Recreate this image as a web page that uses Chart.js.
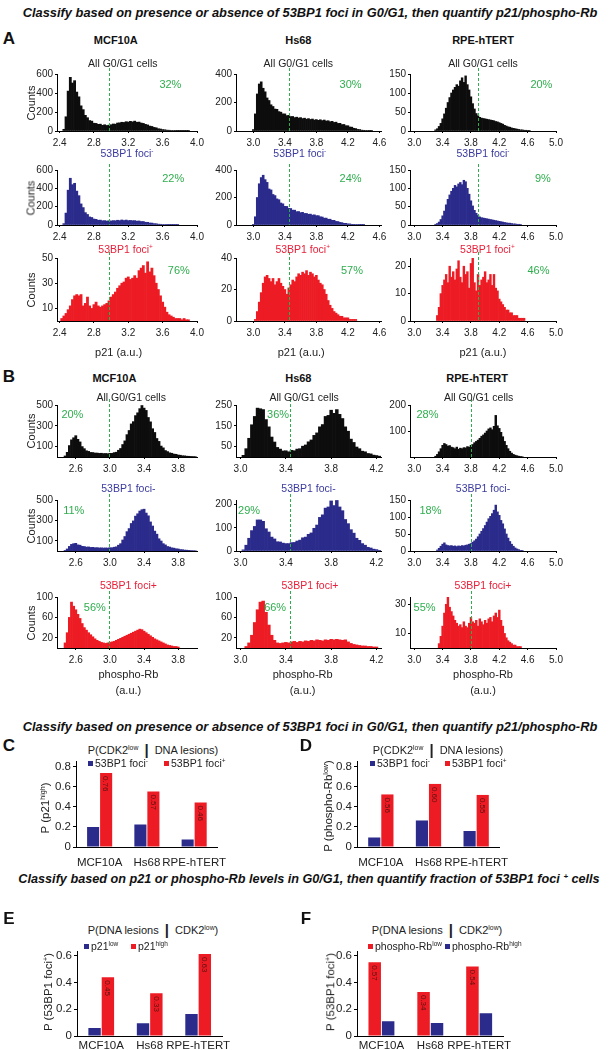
<!DOCTYPE html>
<html><head><meta charset="utf-8">
<script src="https://cdn.jsdelivr.net/npm/chart.js@4.4.1/dist/chart.umd.min.js"></script>
<style>
html,body{margin:0;padding:0;background:#fff;}
#root{position:relative;width:616px;height:1050px;overflow:hidden;font-family:'Liberation Sans',Arial,Helvetica,sans-serif;color:#222;}
.t{position:absolute;white-space:nowrap;transform:translate(-50%,-50%);line-height:1;}
.tl{position:absolute;white-space:nowrap;transform:translate(0,-50%);line-height:1;}
.box{position:absolute;}
sup{font-size:62%;vertical-align:0;position:relative;top:-0.55em;}
.sq{position:absolute;width:5px;height:5px;}
</style></head><body><div id="root"></div>
<script>
// ================= DATA =================
const cellLines = ['MCF10A', 'Hs68', 'RPE-hTERT'];
const BIN_W = 0.025;

// Panel A (p21, a.u.) — counts per bin
const pA_all_start = [2.45, 3.0, 3.30];
const pA_all_MCF10A = [18,150,420,565,505,530,410,360,265,225,165,140,110,104,82,80,70,72,60,66,58,62,66,74,72,84,86,92,90,98,94,102,96,104,92,94,84,80,70,64,52,48,38,34,24,21,15,13,9,8,6,5,4,3,2,2,1,1,1];
const pA_all_Hs68 = [10,120,260,330,345,300,275,232,214,184,172,154,152,136,132,120,120,108,110,101,102,94,97,91,94,87,90,83,87,81,84,77,80,75,79,73,77,70,72,65,68,60,62,53,54,45,46,37,37,28,27,19,17,11,10,6,5,4,3,2,1];
const pA_all_RPE = [3,6,12,20,32,45,60,75,88,100,108,115,122,118,132,140,128,145,122,108,90,72,58,46,40,36,34,33,32,31,30,29,28,27,25,24,22,20,18,15,13,11,10,8,7,6,5,4,3,3,2,2,1,1];

const pA_neg_start = [2.45, 3.0, 3.30];
const pA_neg_MCF10A = [15,130,380,510,440,455,370,320,230,190,135,115,88,82,65,62,52,53,46,48,43,46,44,48,46,52,48,55,49,54,48,50,47,48,42,44,38,38,30,29,22,21,15,14,9,8,6,5,4,3,2,2,1,1];
const pA_neg_Hs68 = [5,60,200,300,345,362,330,310,262,255,222,214,190,184,160,154,136,135,121,120,108,108,97,98,90,92,84,84,78,79,72,74,68,68,60,58,50,50,42,42,34,34,26,25,19,17,12,12,8,8,5,5,4,3,2,2,1];
const pA_neg_RPE = [2,4,8,15,25,38,55,70,82,92,100,108,104,112,116,110,122,118,100,84,66,52,40,32,26,22,20,19,18,17,16,15,14,13,12,11,10,9,8,7,6,5,5,4,3,3,2,2,1];

const pA_pos_start = [2.425, 3.025, 3.325];
const pA_pos_MCF10A = [2,4,6,9,12,17,20,21,20,21,12,14,19,12,10,13,15,12,11,12,13,14,16,19,21,23,26,28,30,31,34,35,33,34,36,34,40,42,44,38,47,39,42,36,30,25,20,15,11,7,5,4,3,2,2,2,1,2,1,1];
const pA_pos_Hs68 = [1,6,12,18,24,28,29,27,25,27,23,25,27,24,22,20,17,21,23,26,25,28,30,29,31,30,32,29,31,30,28,29,26,24,23,20,17,13,10,8,6,5,4,3,3,2,2,2,1,1,1,1];
const pA_pos_RPE = [2,5,10,13,15,17,14,20,16,18,15,19,22,16,14,20,17,18,12,21,23,14,11,17,13,15,16,18,14,15,17,13,17,12,11,8,7,6,5,4,4,3,3,2,2,2,1,1,1,1];

// Panel B (phospho-Rb, a.u.) — counts per bin
const pB_all_start = [2.475, 3.025, 3.30];
const pB_all_MCF10A = [10,45,110,165,185,205,170,145,100,80,60,54,44,43,38,38,35,36,33,34,32,35,35,42,46,65,82,120,155,215,255,318,340,398,425,465,495,470,448,380,338,272,236,178,150,105,88,62,52,40,36,28,26,19,17,12,11,8,7,5,4,3];
const pB_all_Hs68 = [8,40,90,155,195,235,232,228,180,145,96,72,46,38,29,30,25,32,30,38,40,52,58,73,82,104,116,145,156,195,200,225,210,228,205,185,145,124,86,70,48,40,28,25,17,15,9,7,4];
const pB_all_RPE = [3,10,20,32,45,52,48,42,44,38,36,32,38,30,34,32,36,35,40,38,45,48,55,60,65,72,80,85,92,100,108,112,105,118,160,120,110,95,78,60,45,32,22,15,10,7,5,3,2,1];

const pB_neg_start = [2.475, 3.025, 3.325];
const pB_neg_MCF10A = [5,20,45,65,72,75,60,57,46,44,38,40,35,36,32,33,30,31,29,30,29,32,32,37,41,57,72,108,142,190,220,270,295,342,365,392,405,410,372,345,285,245,195,165,120,98,72,60,44,39,31,28,22,20,14,13,9,8,6,4,3,2];
const pB_neg_Hs68 = [5,25,55,88,106,134,134,128,96,82,60,52,40,39,34,32,32,36,37,43,47,57,60,72,78,98,112,145,156,185,190,216,196,218,190,174,136,118,92,77,55,46,32,25,16,13,8,6,3];
const pB_neg_RPE = [3,8,14,20,24,18,16,15,16,14,15,13,15,14,16,15,17,18,20,22,26,30,35,42,50,58,66,75,85,95,102,110,120,135,115,105,90,80,65,50,38,28,20,14,9,6,4,2,1];

const pB_pos_start = [2.475, 3.05, 3.35];
const pB_pos_MCF10A = [10,30,60,90,82,75,66,58,48,40,35,30,26,22,18,15,13,11,10,9,10,11,12,13,15,17,19,21,23,25,27,29,31,33,35,37,36,33,30,27,24,21,18,16,14,12,10,8,6,5,4,3,3,2];
const pB_pos_Hs68 = [3,10,25,50,75,90,92,70,45,25,15,10,9,10,11,10,12,13,11,13,12,14,13,15,14,16,15,14,16,15,17,16,17,16,15,16,12,9,7,6,5,4,4,3,3,2,2];
const pB_pos_RPE = [3,8,15,24,30,35,28,25,22,19,17,15,16,14,18,15,14,17,21,18,17,19,15,20,18,16,19,17,20,21,18,22,24,21,26,19,15,10,7,5,4,3,2,2,1,1,1];

// gating thresholds (green dashed lines) and fractions
const pA_thresh = [2.98, 3.45, 3.90];
const pB_thresh = [2.99, 3.44, 3.80];
const pA_all_pct = ['32%', '30%', '20%'];
const pA_neg_pct = ['22%', '24%', '9%'];
const pA_pos_pct = ['76%', '57%', '46%'];
const pB_all_pct = ['20%', '36%', '28%'];
const pB_neg_pct = ['11%', '29%', '18%'];
const pB_pos_pct = ['56%', '66%', '55%'];

// axes: ranges and tick labels
const pA_xrange = [[2.37, 4.0], [2.78, 4.62], [2.94, 5.0]];
const pB_xrange = [[2.38, 4.02], [2.96, 4.24], [2.94, 5.0]];
const pA_xticks = [[2.4, 2.8, 3.2, 3.6, 4.0], [3.0, 3.4, 3.8, 4.2, 4.6], [3.0, 3.4, 3.8, 4.2, 4.6, 5.0]];
const pB_xticks = [[2.6, 3.0, 3.4, 3.8], [3.0, 3.4, 3.8, 4.2], [3.0, 3.4, 3.8, 4.2, 4.6, 5.0]];
const pA_all_ymax = [600, 400, 150];
const pA_neg_ymax = [600, 400, 150];
const pA_pos_ymax = [50, 40, 23];
const pB_all_ymax = [500, 250, 200];
const pB_neg_ymax = [500, 220, 150];
const pB_pos_ymax = [100, 100, 35];
const pA_all_yticks = [[0, 200, 400, 600], [0, 200, 400], [0, 50, 100, 150]];
const pA_neg_yticks = [[0, 200, 400, 600], [0, 200, 400], [0, 50, 100, 150]];
const pA_pos_yticks = [[10, 30, 50], [0, 20, 40], [0, 10, 20]];
const pB_all_yticks = [[100, 300, 500], [50, 150, 250], [100, 200]];
const pB_neg_yticks = [[100, 300, 500], [0, 100, 200], [0, 50, 100, 150]];
const pB_pos_yticks = [[20, 60, 100], [20, 60, 100], [10, 30]];

// Panels C-F (probabilities)
const C_foci_neg = [0.20, 0.225, 0.075];
const C_foci_pos = [0.74, 0.555, 0.445];
const C_labels = ['0.76', '0.57', '0.46'];
const D_foci_neg = [0.095, 0.265, 0.16];
const D_foci_pos = [0.525, 0.63, 0.52];
const D_labels = ['0.56', '0.60', '0.55'];
const E_p21_low = [0.06, 0.095, 0.165];
const E_p21_high = [0.44, 0.32, 0.615];
const E_labels = ['0.45', '0.33', '0.63'];
const F_pRb_low = [0.553, 0.33, 0.52];
const F_pRb_high = [0.11, 0.097, 0.17];
const F_labels = ['0.57', '0.34', '0.54'];
const probTicks = [0, 0.2, 0.4, 0.6, 0.8];
const probTicksEF = [0, 0.2, 0.4, 0.6];

// ================= STYLE / LAYOUT =================
const BLACK = '#0d0d0d', BLUE = '#2b2b8c', RED = '#ed1c24', GREEN = '#2fae4e';
const BLUE_TXT = '#3a3aa0', RED_TXT = '#e8203a';
const FONT = "'Liberation Sans', Arial, sans-serif";
Chart.defaults.font.family = FONT;
Chart.defaults.color = '#222';
Chart.defaults.animation = false;

const root = document.getElementById('root');
function txt(x, y, html, css, cls) {
  const d = document.createElement('div');
  d.className = cls || 't';
  d.innerHTML = html;
  d.style.left = x + 'px'; d.style.top = y + 'px';
  Object.assign(d.style, css || {});
  root.appendChild(d);
  return d;
}
function fitWidth(el, w) {
  const cur = el.getBoundingClientRect().width;
  const fs = parseFloat(el.style.fontSize);
  el.style.fontSize = (fs * w / cur) + 'px';
}

const cols = [{l: 57, r: 197}, {l: 236, r: 381}, {l: 410, r: 556}];
const rowsA = [{t: 74, b: 131}, {t: 170, b: 225}, {t: 258, b: 321}];
const rowsB = [{t: 405, b: 457}, {t: 500, b: 551}, {t: 597, b: 648}];

const YW = 26, PT = 10, PR = 12, XH = 18;
function axisCommon() {
  return {
    grid: {display: true, drawOnChartArea: false, drawTicks: true, tickLength: 2, color: '#000', offset: false},
    border: {display: true, color: '#000', width: 1}
  };
}
function hist(rect, xr, xticks, ymax, yticks, start, counts, color, thr) {
  const box = document.createElement('div');
  box.className = 'box';
  box.style.left = (rect.l - YW) + 'px';
  box.style.top = (rect.t - PT) + 'px';
  box.style.width = (rect.r - rect.l + YW + PR) + 'px';
  box.style.height = (rect.b - rect.t + PT + XH) + 'px';
  const cv = document.createElement('canvas');
  box.appendChild(cv); root.appendChild(box);
  const pts = counts.map((c, i) => ({x: start + i * BIN_W, y: c}));
  const thrPlugin = {
    id: 'thr',
    afterDatasetsDraw(chart) {
      const x = Math.round(chart.scales.x.getPixelForValue(thr)) + 0.5;
      const a = chart.chartArea, ctx = chart.ctx;
      ctx.save(); ctx.strokeStyle = GREEN; ctx.lineWidth = 1; ctx.setLineDash([3, 2]);
      ctx.beginPath(); ctx.moveTo(x, a.top - 6); ctx.lineTo(x, a.bottom); ctx.stroke(); ctx.restore();
    }
  };
  new Chart(cv, {
    type: 'bar',
    data: {datasets: [{data: pts, backgroundColor: color, borderWidth: 0, barPercentage: 1, categoryPercentage: 1, grouped: false}]},
    options: {
      responsive: true, maintainAspectRatio: false, animation: false,
      layout: {padding: {top: PT, right: PR, left: 0, bottom: 0}},
      plugins: {legend: {display: false}, tooltip: {enabled: false}},
      scales: {
        x: Object.assign(axisCommon(), {
          type: 'linear', min: xr[0], max: xr[1], offset: false,
          afterBuildTicks: s => { s.ticks = xticks.map(v => ({value: v})); },
          afterFit: s => { s.height = XH; },
          ticks: {font: {size: 10}, color: '#222', padding: 4, maxRotation: 0, minRotation: 0, autoSkip: false, callback: v => Number(v).toFixed(1)}
        }),
        y: Object.assign(axisCommon(), {
          type: 'linear', min: 0, max: ymax,
          afterBuildTicks: s => { s.ticks = yticks.map(v => ({value: v})); },
          afterFit: s => { s.width = YW; },
          ticks: {font: {size: 10}, color: '#222', padding: 2, autoSkip: false, callback: v => String(v)}
        })
      }
    },
    plugins: [thrPlugin]
  });
}

// ---------- titles ----------
const t1 = txt(310, 13, 'Classify based on presence or absence of 53BP1 foci in G0/G1, then quantify p21/phospho-Rb',
  {fontSize: '12px', fontWeight: 'bold', fontStyle: 'italic', color: '#111'});
fitWidth(t1, 575);
txt(9, 38, 'A', {fontSize: '17px', fontWeight: 'bold', color: '#111'});
txt(9, 376, 'B', {fontSize: '17px', fontWeight: 'bold', color: '#111'});

function fx(col, f) { return cols[col].l + f * (cols[col].r - cols[col].l); }

// column headers
const hdrA = [0.42, 0.43, 0.50], hdrB = [0.41, 0.43, 0.46];
for (let c = 0; c < 3; c++) {
  txt(fx(c, hdrA[c]), 40, cellLines[c], {fontSize: '11px', fontWeight: 'bold', color: '#111'});
  txt(fx(c, hdrB[c]), 378, cellLines[c], {fontSize: '11px', fontWeight: 'bold', color: '#111'});
}

// ---------- Panel A ----------
const A_sets = [
  {data: [pA_all_MCF10A, pA_all_Hs68, pA_all_RPE], start: pA_all_start, ymax: pA_all_ymax, yt: pA_all_yticks, color: BLACK, pct: pA_all_pct,
   sub: 'All G0/G1 cells', subColor: '#222', subF: [0.47, 0.43, 0.50], subY: 63, pctF: [0.81, 0.79, 0.90], pctY: 84},
  {data: [pA_neg_MCF10A, pA_neg_Hs68, pA_neg_RPE], start: pA_neg_start, ymax: pA_neg_ymax, yt: pA_neg_yticks, color: BLUE, pct: pA_neg_pct,
   sub: '53BP1 foci<sup>-</sup>', subColor: BLUE_TXT, subF: [0.50, 0.44, 0.50], subY: 153, pctF: [0.83, 0.79, 0.91], pctY: 178},
  {data: [pA_pos_MCF10A, pA_pos_Hs68, pA_pos_RPE], start: pA_pos_start, ymax: pA_pos_ymax, yt: pA_pos_yticks, color: RED, pct: pA_pos_pct,
   sub: '53BP1 foci<sup>+</sup>', subColor: RED_TXT, subF: [0.49, 0.46, 0.53], subY: 249, pctF: [0.87, 0.80, 0.88], pctY: 270}
];
A_sets.forEach((s, r) => {
  for (let c = 0; c < 3; c++) {
    hist({l: cols[c].l, r: cols[c].r, t: rowsA[r].t, b: rowsA[r].b}, pA_xrange[c], pA_xticks[c], s.ymax[c], s.yt[c],
      s.start[c], s.data[c], s.color, pA_thresh[c]);
    txt(fx(c, s.subF[c]), s.subY, s.sub, {fontSize: '10.5px', color: s.subColor});
    txt(fx(c, s.pctF[c]), s.pctY, s.pct[c], {fontSize: '11px', color: GREEN});
  }
  txt(31, (rowsA[r].t + rowsA[r].b) / 2, 'Counts', {fontSize: '11px', transform: 'translate(-50%,-50%) rotate(-90deg)'});
});
const p21F = [0.44, 0.45, 0.50];
for (let c = 0; c < 3; c++) txt(fx(c, p21F[c]), 352, 'p21 (a.u.)', {fontSize: '11px'});

// ---------- Panel B ----------
const B_sets = [
  {data: [pB_all_MCF10A, pB_all_Hs68, pB_all_RPE], start: pB_all_start, ymax: pB_all_ymax, yt: pB_all_yticks, color: BLACK, pct: pB_all_pct,
   sub: 'All G0/G1 cells', subColor: '#222', subF: [0.53, 0.47, 0.47], subY: 397, pctF: [0.11, 0.29, 0.12], pctY: 414},
  {data: [pB_neg_MCF10A, pB_neg_Hs68, pB_neg_RPE], start: pB_neg_start, ymax: pB_neg_ymax, yt: pB_neg_yticks, color: BLUE, pct: pB_neg_pct,
   sub: '53BP1 foci-', subColor: BLUE_TXT, subF: [0.51, 0.50, 0.50], subY: 488, pctF: [0.12, 0.09, 0.14], pctY: 510},
  {data: [pB_pos_MCF10A, pB_pos_Hs68, pB_pos_RPE], start: pB_pos_start, ymax: pB_pos_ymax, yt: pB_pos_yticks, color: RED, pct: pB_pos_pct,
   sub: '53BP1 foci+', subColor: RED_TXT, subF: [0.51, 0.51, 0.50], subY: 585, pctF: [0.27, 0.27, 0.10], pctY: 607}
];
B_sets.forEach((s, r) => {
  for (let c = 0; c < 3; c++) {
    hist({l: cols[c].l, r: cols[c].r, t: rowsB[r].t, b: rowsB[r].b}, pB_xrange[c], pB_xticks[c], s.ymax[c], s.yt[c],
      s.start[c], s.data[c], s.color, pB_thresh[c]);
    txt(fx(c, s.subF[c]), s.subY, s.sub, {fontSize: '10.5px', color: s.subColor});
    txt(fx(c, s.pctF[c]), s.pctY, s.pct[c], {fontSize: '11px', color: GREEN});
  }
  txt(31, (rowsB[r].t + rowsB[r].b) / 2, 'Counts', {fontSize: '11px', transform: 'translate(-50%,-50%) rotate(-90deg)'});
});
const pRbF = [0.51, 0.46, 0.50];
for (let c = 0; c < 3; c++) {
  txt(fx(c, pRbF[c]), 674, 'phospho-Rb', {fontSize: '11px'});
  txt(fx(c, pRbF[c]), 690, '(a.u.)', {fontSize: '11px'});
}

// ---------- section titles ----------
const t2 = txt(310, 727, 'Classify based on presence or absence of 53BP1 foci in G0/G1, then quantify p21/phospho-Rb',
  {fontSize: '12px', fontWeight: 'bold', fontStyle: 'italic', color: '#111'});
fitWidth(t2, 575);
const t3 = txt(309, 879, 'Classify based on p21 or phospho-Rb levels in G0/G1, then quantify fraction of 53BP1 foci <sup>+</sup> cells',
  {fontSize: '12px', fontWeight: 'bold', fontStyle: 'italic', color: '#111'});
fitWidth(t3, 582);

// ---------- bar charts ----------
const BW = 34, BT = 8, BPR = 6;
function bars(rect, ymax, yticks, sets, lblSet, lbls, labelPad) {
  const BXH = labelPad + 14;
  const box = document.createElement('div');
  box.className = 'box';
  box.style.left = (rect.l - BW) + 'px';
  box.style.top = (rect.t - BT) + 'px';
  box.style.width = (rect.r - rect.l + BW + BPR) + 'px';
  box.style.height = (rect.b - rect.t + BT + BXH) + 'px';
  const cv = document.createElement('canvas');
  box.appendChild(cv); root.appendChild(box);
  const vlab = {
    id: 'vlab',
    afterDatasetsDraw(chart) {
      const meta = chart.getDatasetMeta(lblSet), ctx = chart.ctx;
      ctx.save(); ctx.fillStyle = '#5a1212'; ctx.font = '8px ' + FONT;
      meta.data.forEach((bar, i) => {
        ctx.save(); ctx.translate(bar.x, bar.y + 3); ctx.rotate(Math.PI / 2);
        ctx.textAlign = 'left'; ctx.textBaseline = 'middle';
        ctx.fillText(lbls[i], 0, 0.5); ctx.restore();
      });
      ctx.restore();
    }
  };
  new Chart(cv, {
    type: 'bar',
    data: {labels: cellLines, datasets: sets.map(s => ({data: s.data, backgroundColor: s.color, borderWidth: 0,
      barPercentage: 0.93, categoryPercentage: 0.55}))},
    options: {
      responsive: true, maintainAspectRatio: false, animation: false,
      layout: {padding: {top: BT, right: BPR, left: 0, bottom: 0}},
      plugins: {legend: {display: false}, tooltip: {enabled: false}},
      scales: {
        x: {grid: {display: false, drawTicks: false}, border: {display: true, color: '#000', width: 1},
            afterFit: s => { s.height = BXH; },
            ticks: {font: {size: 11.5}, color: '#222', padding: labelPad, maxRotation: 0, autoSkip: false}},
        y: {min: 0, max: ymax,
            grid: {display: true, drawOnChartArea: false, drawTicks: true, tickLength: 3, color: '#000'},
            border: {display: true, color: '#000', width: 1},
            afterBuildTicks: s => { s.ticks = yticks.map(v => ({value: v})); },
            afterFit: s => { s.width = BW; },
            ticks: {font: {size: 11.5}, color: '#222', padding: 2, autoSkip: false, callback: v => v === 0 ? '0' : Number(v).toFixed(1)}}
      }
    },
    plugins: [vlab]
  });
}
function legendItem(x, y, color, html) {
  const s = document.createElement('div');
  s.className = 'sq'; s.style.left = x + 'px'; s.style.top = (y - 2.5) + 'px'; s.style.background = color;
  root.appendChild(s);
  txt(x + 7, y, html, {fontSize: '10.5px'}, 'tl');
}
const BAR_SEP = '<span style="font-weight:bold;font-size:15px;position:relative;top:1px">&thinsp;|&thinsp;</span>';

// C
txt(9, 745, 'C', {fontSize: '17px', fontWeight: 'bold', color: '#111'});
txt(153, 748, 'P(CDK2<sup>low</sup> ' + BAR_SEP + ' DNA lesions)', {fontSize: '11px'});
bars({l: 76, r: 230, t: 761, b: 847}, 0.85, probTicks, [{data: C_foci_neg, color: BLUE}, {data: C_foci_pos, color: RED}], 1, C_labels, 9);
legendItem(88, 763, BLUE, '53BP1 foci<sup>-</sup>');
legendItem(164, 763, RED, '53BP1 foci<sup>+</sup>');
txt(46, 808, 'P (p21<sup>high</sup>)', {fontSize: '11.5px', transform: 'translate(-50%,-50%) rotate(-90deg)'});

// D
txt(306, 745, 'D', {fontSize: '17px', fontWeight: 'bold', color: '#111'});
txt(438, 748, 'P(CDK2<sup>low</sup> ' + BAR_SEP + ' DNA lesions)', {fontSize: '11px'});
bars({l: 357, r: 512, t: 761, b: 847}, 0.85, probTicks, [{data: D_foci_neg, color: BLUE}, {data: D_foci_pos, color: RED}], 1, D_labels, 9);
legendItem(370, 763, BLUE, '53BP1 foci<sup>-</sup>');
legendItem(445, 763, RED, '53BP1 foci<sup>+</sup>');
txt(329, 806, 'P (phospho-Rb<sup>low</sup>)', {fontSize: '11.5px', transform: 'translate(-50%,-50%) rotate(-90deg)'});

// E
txt(9, 918, 'E', {fontSize: '17px', fontWeight: 'bold', color: '#111'});
txt(153, 928, 'P(DNA lesions ' + BAR_SEP + ' CDK2<sup>low</sup>)', {fontSize: '11px'});
bars({l: 77, r: 228, t: 951, b: 1036}, 0.63, probTicksEF, [{data: E_p21_low, color: BLUE}, {data: E_p21_high, color: RED}], 1, E_labels, 3);
legendItem(84, 946, BLUE, 'p21<sup>low</sup>');
legendItem(131, 946, RED, 'p21<sup>high</sup>');
txt(49, 992, 'P (53BP1 foci<sup>+</sup>)', {fontSize: '11.5px', transform: 'translate(-50%,-50%) rotate(-90deg)'});

// F
txt(306, 918, 'F', {fontSize: '17px', fontWeight: 'bold', color: '#111'});
txt(437, 928, 'P(DNA lesions ' + BAR_SEP + ' CDK2<sup>low</sup>)', {fontSize: '11px'});
bars({l: 357, r: 509, t: 951, b: 1036}, 0.63, probTicksEF, [{data: F_pRb_low, color: RED}, {data: F_pRb_high, color: BLUE}], 0, F_labels, 3);
legendItem(368, 946, RED, 'phospho-Rb<sup>low</sup>');
legendItem(445, 946, BLUE, 'phospho-Rb<sup>high</sup>');
txt(331, 992, 'P (53BP1 foci<sup>+</sup>)', {fontSize: '11.5px', transform: 'translate(-50%,-50%) rotate(-90deg)'});
</script></body></html>
